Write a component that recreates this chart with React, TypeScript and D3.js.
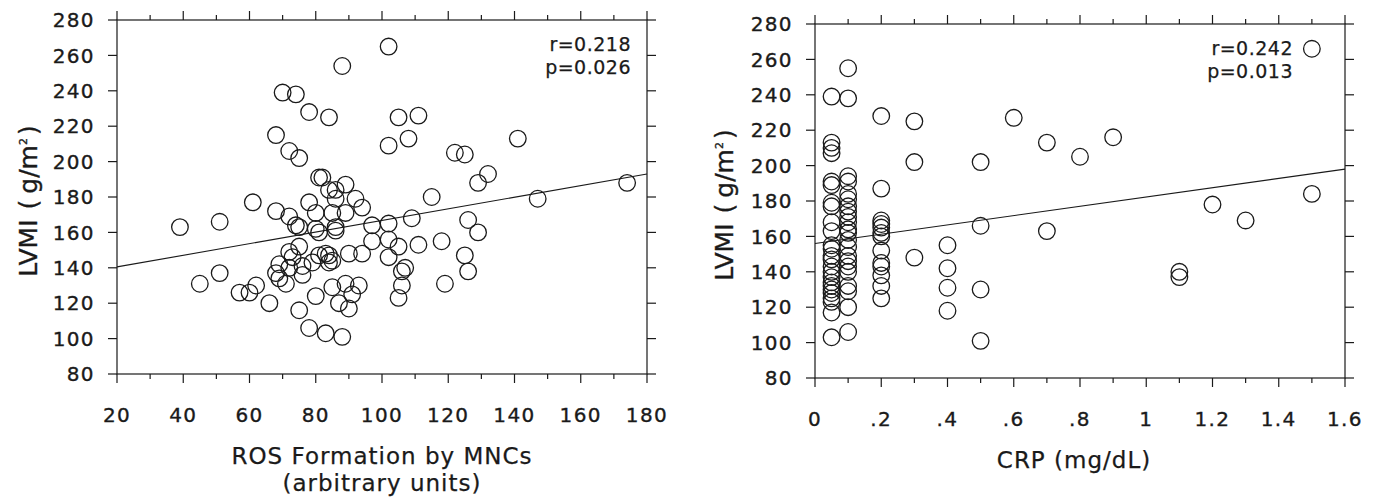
import React from 'react';
import * as d3 from 'd3';

// LVMI vs ROS formation (left) and LVMI vs CRP (right)
const rosValues = [
  39, 45, 51, 51, 57, 60, 62, 61, 66, 68, 68, 70, 74, 72, 75, 78, 84, 88, 81, 82,
  84, 86, 89, 78, 80, 72, 85, 86, 89, 92, 94, 74, 75, 80, 81, 86, 86, 97, 75, 72,
  73, 69, 68, 69, 72, 76, 76, 79, 81, 83, 84, 85, 84, 90, 94, 97, 102, 102, 105, 75,
  80, 85, 89, 93, 87, 90, 91, 78, 83, 88, 102, 105, 111, 102, 108, 122, 125, 132, 129, 115,
  147, 141, 174, 102, 109, 126, 129, 111, 118, 125, 126, 107, 106, 106, 105, 119, 71,
];
const rosLvmi = [
  163, 131, 166, 137, 126, 126, 130, 177, 120, 172, 215, 239, 238, 206, 202, 228, 225, 254, 191, 191,
  184, 184, 187, 177, 171, 169, 171, 179, 171, 179, 174, 164, 163, 162, 160, 163, 161, 164, 152, 149,
  146, 142, 137, 134, 140, 136, 141, 143, 147, 148, 147, 144, 143, 148, 148, 155, 156, 146, 152, 116,
  124, 129, 131, 130, 120, 117, 125, 106, 103, 101, 265, 225, 226, 209, 213, 205, 204, 193, 188, 180,
  179, 213, 188, 165, 168, 167, 160, 153, 155, 147, 138, 140, 138, 130, 123, 131, 131,
];

const crpValues = [
  0.05, 0.05, 0.05, 0.05, 0.05, 0.05, 0.05, 0.05, 0.05, 0.05, 0.05, 0.05, 0.05, 0.05, 0.05, 0.05,
  0.05, 0.05, 0.05, 0.05, 0.05, 0.05, 0.05, 0.05, 0.05,
  0.1, 0.1, 0.1, 0.1, 0.1, 0.1, 0.1, 0.1, 0.1, 0.1, 0.1, 0.1, 0.1, 0.1, 0.1, 0.1, 0.1, 0.1, 0.1, 0.1,
  0.1, 0.1,
  0.2, 0.2, 0.2, 0.2, 0.2, 0.2, 0.2, 0.2, 0.2, 0.2, 0.2, 0.2, 0.2,
  0.3, 0.3, 0.3,
  0.4, 0.4, 0.4, 0.4,
  0.5, 0.5, 0.5, 0.5,
  0.6, 0.7, 0.7, 0.8, 0.9, 1.1, 1.1, 1.2, 1.3, 1.5, 1.5,
];
const crpLvmi = [
  239, 213, 210, 207, 191, 189, 179, 177, 168, 163, 155, 153, 149, 147, 143, 140,
  137, 134, 132, 130, 128, 125, 123, 117, 103,
  255, 238, 194, 191, 184, 181, 177, 174, 171, 168, 164, 162, 158, 154, 149, 146, 143, 140, 132, 129,
  120, 106,
  228, 187, 169, 167, 165, 162, 160, 152, 145, 143, 138, 132, 125,
  225, 202, 148,
  155, 142, 131, 118,
  202, 166, 130, 101,
  227, 213, 163, 205, 216, 140, 137, 178, 169, 266, 184,
];

const yTicks = [80, 100, 120, 140, 160, 180, 200, 220, 240, 260, 280];
const rosTicks = [20, 40, 60, 80, 100, 120, 140, 160, 180];
const rosMinor = [30, 50, 70, 90, 110, 130, 150, 170];
const crpTicks = [0, 0.2, 0.4, 0.6, 0.8, 1, 1.2, 1.4, 1.6];
const crpTickLabels = ['0', '.2', '.4', '.6', '.8', '1', '1.2', '1.4', '1.6'];
const crpMinor = [0.1, 0.3, 0.5, 0.7, 0.9, 1.1, 1.3, 1.5];

// fitted line, LVMI at both ends of the x domain
const rosFit = [140.5, 193];
const crpFit = [156, 198];

const rosStats = ['r=0.218', 'p=0.026'];
const crpStats = ['r=0.242', 'p=0.013'];

const FONT = '"DejaVu Sans", Verdana, sans-serif';
const INK = '#1a1a1a';

function Panel(props) {
  const { left, right, top, bottom, xDomain, xs, ys, xTicks, xLabels, xMinor, fit, stats, statsX, title } = props;
  const x = d3.scaleLinear().domain(xDomain).range([left, right]);
  const y = d3.scaleLinear().domain([80, 280]).range([bottom, top]);
  const major = 9;
  const minor = 5;
  const midY = (top + bottom) / 2 + 4;
  const titleX = props.yTitleX;

  return (
    <g>
      {/* frame */}
      <rect x={left} y={top} width={right - left} height={bottom - top} fill="none" stroke={INK} strokeWidth={1.2} />

      {xTicks.map((t) => (
        <g key={'xt' + t}>
          <line x1={x(t)} x2={x(t)} y1={bottom} y2={bottom + major} stroke={INK} strokeWidth={1.2} />
          <line x1={x(t)} x2={x(t)} y1={top} y2={top - major} stroke={INK} strokeWidth={1.2} />
        </g>
      ))}
      {xMinor.map((t) => (
        <g key={'xm' + t}>
          <line x1={x(t)} x2={x(t)} y1={bottom} y2={bottom + minor} stroke={INK} strokeWidth={1.2} />
          <line x1={x(t)} x2={x(t)} y1={top} y2={top - minor} stroke={INK} strokeWidth={1.2} />
        </g>
      ))}
      {yTicks.map((t) => (
        <g key={'yt' + t}>
          <line x1={left} x2={left - major} y1={y(t)} y2={y(t)} stroke={INK} strokeWidth={1.2} />
          <line x1={right} x2={right + major} y1={y(t)} y2={y(t)} stroke={INK} strokeWidth={1.2} />
          <text x={left - 22} y={y(t)} dy="0.36em" textAnchor="end" fontSize={20} letterSpacing={1.4}
            fontFamily={FONT} fill={INK} stroke={INK} strokeWidth={0.35}>
            {t}
          </text>
        </g>
      ))}
      {xTicks.map((t, i) => (
        <text key={'xl' + t} x={x(t)} y={bottom + 48} textAnchor="middle" fontSize={20} letterSpacing={1.4}
          fontFamily={FONT} fill={INK} stroke={INK} strokeWidth={0.35}>
          {xLabels[i]}
        </text>
      ))}

      {/* regression line */}
      <line x1={x(xDomain[0])} y1={y(fit[0])} x2={x(xDomain[1])} y2={y(fit[1])} stroke={INK} strokeWidth={1.1} />

      {xs.map((v, i) => (
        <circle key={'p' + i} cx={x(v)} cy={y(ys[i])} r={8.3} fill="none" stroke={INK} strokeWidth={1.3} />
      ))}

      <text x={statsX} y={top + 31} textAnchor="end" fontSize={19} letterSpacing={0.5} fontFamily={FONT} fill={INK} stroke={INK} strokeWidth={0.25}>{stats[0]}</text>
      <text x={statsX} y={top + 54} textAnchor="end" fontSize={19} letterSpacing={0.5} fontFamily={FONT} fill={INK} stroke={INK} strokeWidth={0.25}>{stats[1]}</text>

      <text
        transform={`translate(${titleX},${midY}) rotate(-90)`}
        textAnchor="middle"
        fontSize={25}
        fontFamily={FONT}
        fill={INK}
        stroke={INK}
        strokeWidth={0.35}
      >
        LVMI<tspan dx={10}>(</tspan><tspan dx={6}>g/m</tspan><tspan dy={-10} fontSize={11}>2</tspan><tspan dy={10} dx={3}>)</tspan>
      </text>

      {title.map((line, i) => (
        <text key={'tt' + i} x={props.titleCx} y={bottom + 90 + i * 27} textAnchor="middle" fontSize={23}
          letterSpacing={1} fontFamily={FONT} fill={INK} stroke={INK} strokeWidth={0.25}>
          {line}
        </text>
      ))}
    </g>
  );
}

export default function App() {
  return (
    <svg width={1376} height={498} style={{ position: 'absolute', left: 0, top: 0, background: '#fff' }}>
      <rect width={1376} height={498} fill="#fff" />
      <Panel
        left={117}
        right={647}
        top={20}
        bottom={374}
        xDomain={[20, 180]}
        xs={rosValues}
        ys={rosLvmi}
        xTicks={rosTicks}
        xLabels={rosTicks.map(String)}
        xMinor={rosMinor}
        fit={rosFit}
        stats={rosStats}
        statsX={631}
        yTitleX={37}
        titleCx={382}
        title={['ROS Formation by MNCs', '(arbitrary units)']}
      />
      <Panel
        left={815}
        right={1345}
        top={24}
        bottom={378}
        xDomain={[0, 1.6]}
        xs={crpValues}
        ys={crpLvmi}
        xTicks={crpTicks}
        xLabels={crpTickLabels}
        xMinor={crpMinor}
        fit={crpFit}
        stats={crpStats}
        statsX={1293}
        yTitleX={733}
        titleCx={1074}
        title={['CRP (mg/dL)']}
      />
    </svg>
  );
}
